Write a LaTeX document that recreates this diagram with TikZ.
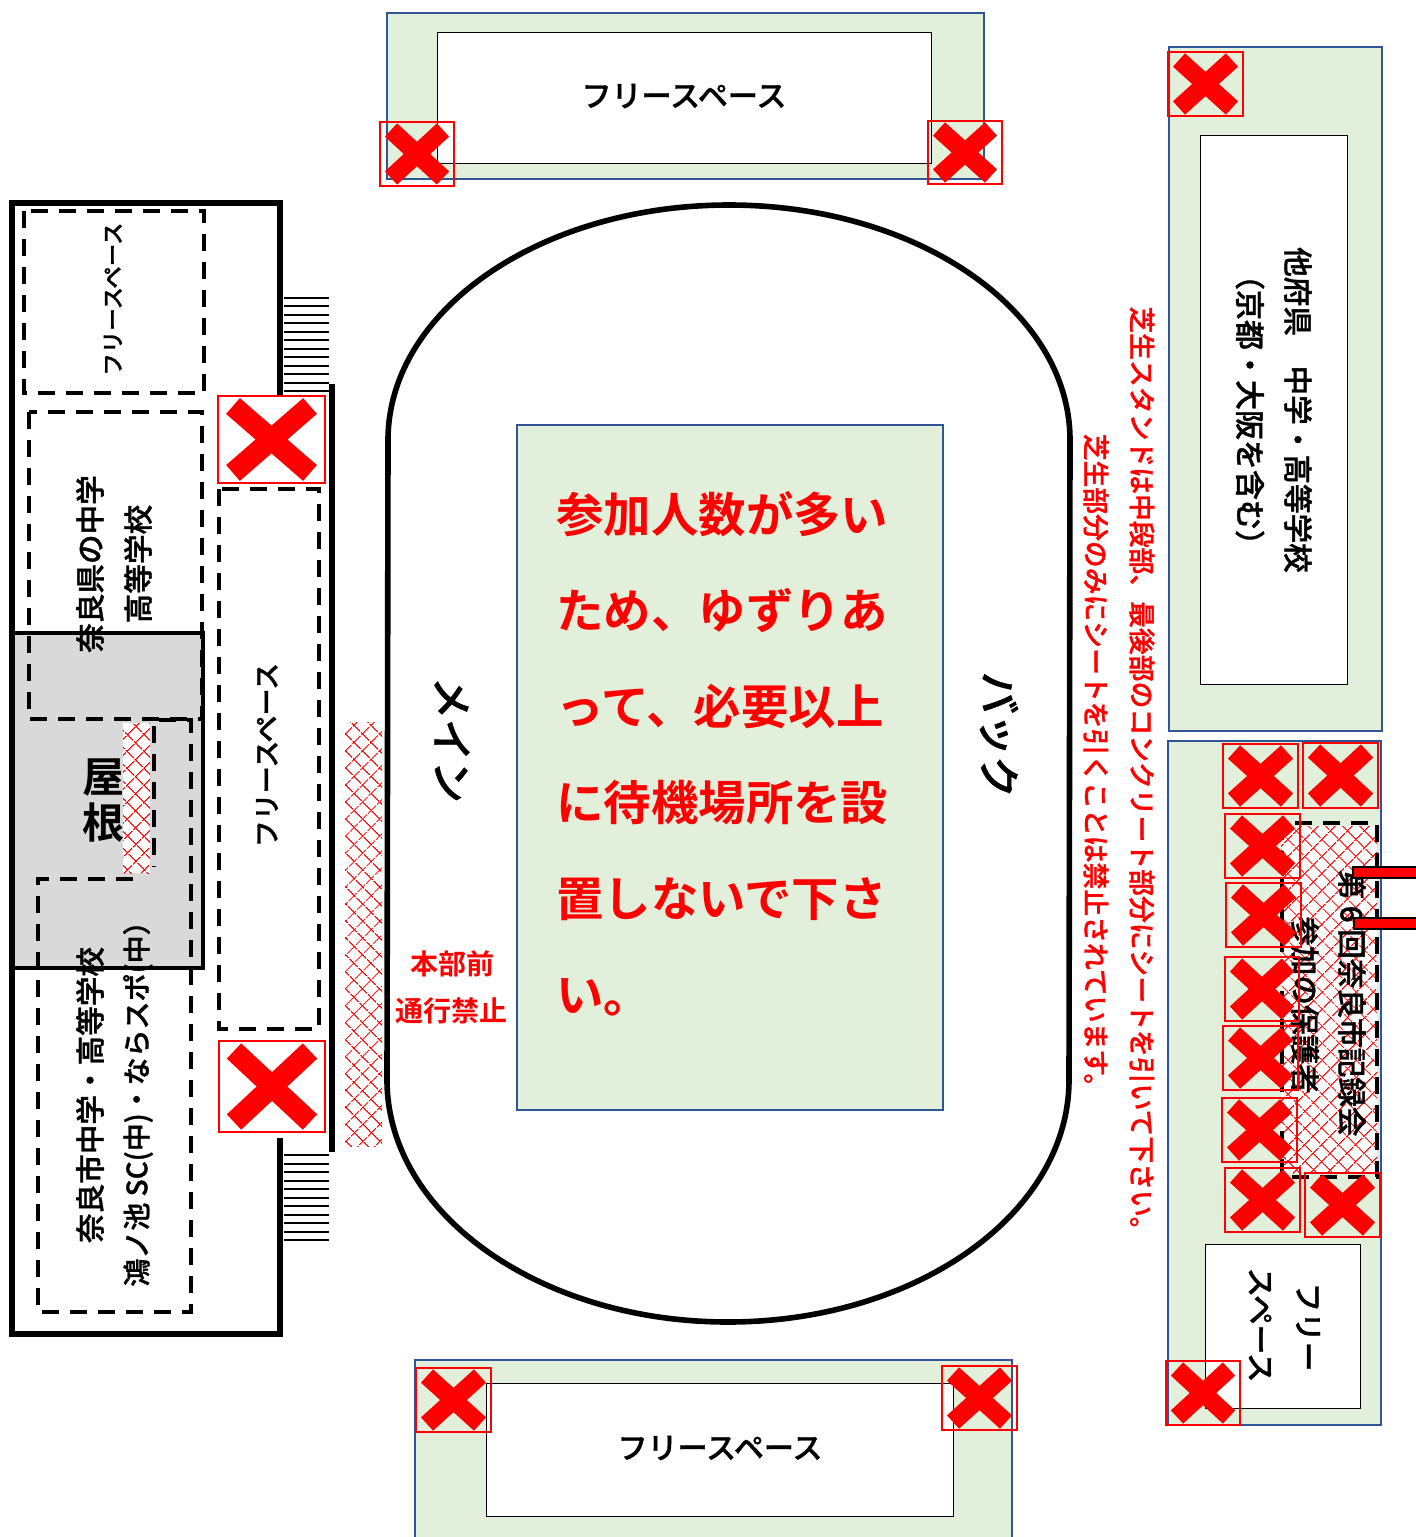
\documentclass[tikz,border=0pt]{standalone}
\usepackage{fontspec}
\setmainfont[BoldFont={Noto Sans CJK JP Medium}, BoldFeatures={FakeBold=1.2}]{Noto Sans CJK JP}
\newfontfamily\heavyfont{Noto Sans CJK JP Bold}
\usetikzlibrary{patterns.meta}

\definecolor{lawngreen}{HTML}{E2EFDA}
\definecolor{edgeblue}{HTML}{2F5597}
\definecolor{roofgray}{HTML}{D9D9D9}

\begin{document}
\begin{tikzpicture}[
        x=0.5pt, y=-0.5pt,
        lawnbox/.style={draw=edgeblue, fill=lawngreen, line width=1.4pt},
        freebox/.style={draw=black, fill=white, line width=0.5pt},
        wall/.style={draw=black, line width=2.8pt},
        dashbox/.style={draw=black, line width=2pt, dash pattern=on 8.5pt off 5.5pt},
        redhatch/.style={
            fill=white,
            postaction={pattern={Lines[angle=45,distance=6.4pt,line width=0.6pt]}, pattern color=red},
            postaction={pattern={Lines[angle=-45,distance=6.4pt,line width=0.6pt]}, pattern color=red}
        },
        redbar/.style={draw=black, fill=red, line width=1.3pt},
        nobox/.style={draw=red, line width=1.3pt},
        nocross/.style={draw=red, line width=9pt},
        bigcross/.style={draw=red, line width=10.5pt},
        label/.style={font=\fontsize{15}{15}\selectfont\bfseries, inner sep=0pt},
        sidelabel/.style={font=\fontsize{14.8}{14.8}\selectfont\bfseries, inner sep=0pt, rotate=-90},
        standlabel/.style={font=\fontsize{14.8}{14.8}\selectfont\bfseries, inner sep=0pt, rotate=90},
        notice/.style={font=\fontsize{13.4}{13.4}\selectfont\bfseries, text=red, rotate=-90, inner sep=0pt}
    ]
    \useasboundingbox (0,0) rectangle (1416,1537);

    % --- Lawn areas ---
    \draw[lawnbox] (387,13) rectangle (984,179);
    \draw[freebox] (437,32) rectangle (931,163);
    \draw[lawnbox] (1169,47) rectangle (1382,731);
    \draw[freebox] (1200,135) rectangle (1347,684);
    \draw[lawnbox] (1168,741) rectangle (1381,1425);
    \draw[freebox] (1205,1244) rectangle (1360,1408);
    \draw[lawnbox] (415,1360) -- (1012,1360) -- (1012,1540) -- (415,1540) -- cycle;
    \draw[freebox] (486,1383) rectangle (953,1516);

    % --- Track ---
    \draw[black, line width=2.8pt] (388,440) arc[start angle=180, end angle=360, x radius=341, y radius=235]
        -- (1069,1080) arc[start angle=0, end angle=180, x radius=341, y radius=242] -- cycle;
    \draw[lawnbox] (517,425) rectangle (943,1110);

    % --- Main stand ---
    \draw[wall] (280,396) -- (280,203) -- (12,203) -- (12,1334) -- (280,1334) -- (280,1138);
    \draw[fill=roofgray, draw=black, line width=2pt] (13,633) rectangle (203,968);
    \draw[dashbox] (24,211) rectangle (204,393);
    \draw[dashbox] (29,412) rectangle (202,719);
    \draw[dashbox] (133,879) -- (38,879) -- (38,1312) -- (191,1312) -- (191,720) -- (154,720) -- (154,867);
    \path[redhatch] (123,723) rectangle (150,873);
    \draw[dashbox, fill=white] (219,489) rectangle (319,1029);
    \draw[black, line width=2.8pt] (332,384) -- (332,1152);
    \path[redhatch] (345,722) rectangle (382,1146);

    % --- Stairs ---
    \foreach \ya in {298,306,315,323,332,340,349,357,366,374,383,391} {
        \draw[black, line width=1pt] (284,\ya) -- (329,\ya);
    }
    \foreach \ya in {1155,1164,1172,1181,1189,1198,1206,1215,1223,1232,1240} {
        \draw[black, line width=1pt] (284,\ya) -- (329,\ya);
    }

    % --- Record meet area ---
    \path[redhatch] (1281,826) rectangle (1377,1173);
    \draw[dashbox] (1282,823) rectangle (1377,1177);

    % --- Labels ---
    \node[label] (freetop) at (684,96) {フリースペース};
    \node[label] (freebottom) at (720,1448) {フリースペース};
    \node[standlabel, font=\fontsize{11.2}{11.2}\selectfont\bfseries] (freenorth) at (113,299) {フリースペース};
    \node[standlabel, font=\fontsize{13.5}{13.5}\selectfont\bfseries] (freestand) at (267,755) {フリースペース};
    \node[standlabel] (narapref) at (90,564) {奈良県の中学};
    \node[standlabel] (naraprefhigh) at (138,564) {高等学校};
    \node[label, font=\fontsize{21}{23}\selectfont\heavyfont, align=center] (roof) at (104,801) {屋\\根};
    \node[standlabel] (naracity) at (90,1095) {奈良市中学・高等学校};
    \node[standlabel, font=\fontsize{14}{14}\selectfont\bfseries] (naraclub) at (138,1097) {鴻ノ池 SC(中)・ならスポ(中）};
    \node[sidelabel, font=\fontsize{21}{21}\selectfont\bfseries] (mainside) at (452,740) {メイン};
    \node[sidelabel, font=\fontsize{21}{21}\selectfont\bfseries] (backside) at (999,735) {バック};
    \node[label, font=\fontsize{14}{14}\selectfont\heavyfont, text=red] (honbu) at (452,964) {本部前};
    \node[label, font=\fontsize{14}{14}\selectfont\heavyfont, text=red] (nopass) at (451,1011) {通行禁止};
    \node[font=\fontsize{23.7}{48}\selectfont\heavyfont, text=red, align=left, inner sep=0pt, anchor=north west] (waitnote) at (556,491)
        {参加人数が多い\\ため、ゆずりあ\\って、必要以上\\に待機場所を設\\置しないで下さ\\い。};
    \node[notice] (lawnnote) at (1142,775) {芝生スタンドは中段部、最後部のコンクリート部分にシートを引いて下さい。};
    \node[notice] (sheetnote) at (1096,767) {芝生部分のみにシートを引くことは禁止されています。};
    \node[sidelabel] (otherpref) at (1298,410) {他府県　中学・高等学校};
    \node[sidelabel, font=\fontsize{15}{15}\selectfont\bfseries] (kyoto) at (1250,410) {（京都・大阪を含む）};
    \node[sidelabel] (recordmeet) at (1352,1003) {第 6 回奈良市記録会};
    \node[sidelabel] (guardians) at (1305,1005) {参加の保護者};
    \node[sidelabel] (freea) at (1308,1327) {フリー};
    \node[sidelabel] (freeb) at (1260,1325) {スペース};

    % --- Red bars ---
    \draw[redbar] (1420,867) -- (1353,867) -- (1353,878) -- (1420,878);
    \draw[redbar] (1420,918) -- (1354,918) -- (1354,929) -- (1420,929);

    % --- No entry marks ---
    \foreach \xa/\ya/\xb/\yb in {380/122/454/186, 928/121/1002/184, 1168/52/1243/116,
        416/1368/491/1432, 942/1366/1017/1430, 1166/1361/1240/1425,
        1223/744/1298/808, 1303/743/1378/808, 1225/814/1300/878, 1226/883/1301/947,
        1225/957/1299/1021, 1223/1026/1298/1090, 1222/1098/1297/1162,
        1225/1168/1300/1232, 1305/1173/1380/1237} {
        \draw[nobox] (\xa,\ya) rectangle (\xb,\yb);
        \draw[nocross] (\xa+11,\ya+8) -- (\xb-11,\yb-8);
        \draw[nocross] (\xa+11,\yb-8) -- (\xb-11,\ya+8);
    }
    \foreach \xa/\ya/\xb/\yb in {218/396/325/483, 219/1041/325/1132} {
        \draw[nobox, fill=white] (\xa,\ya) rectangle (\xb,\yb);
        \draw[bigcross] (\xa+15,\ya+10) -- (\xb-15,\yb-10);
        \draw[bigcross] (\xa+15,\yb-10) -- (\xb-15,\ya+10);
    }
\end{tikzpicture}
\end{document}
